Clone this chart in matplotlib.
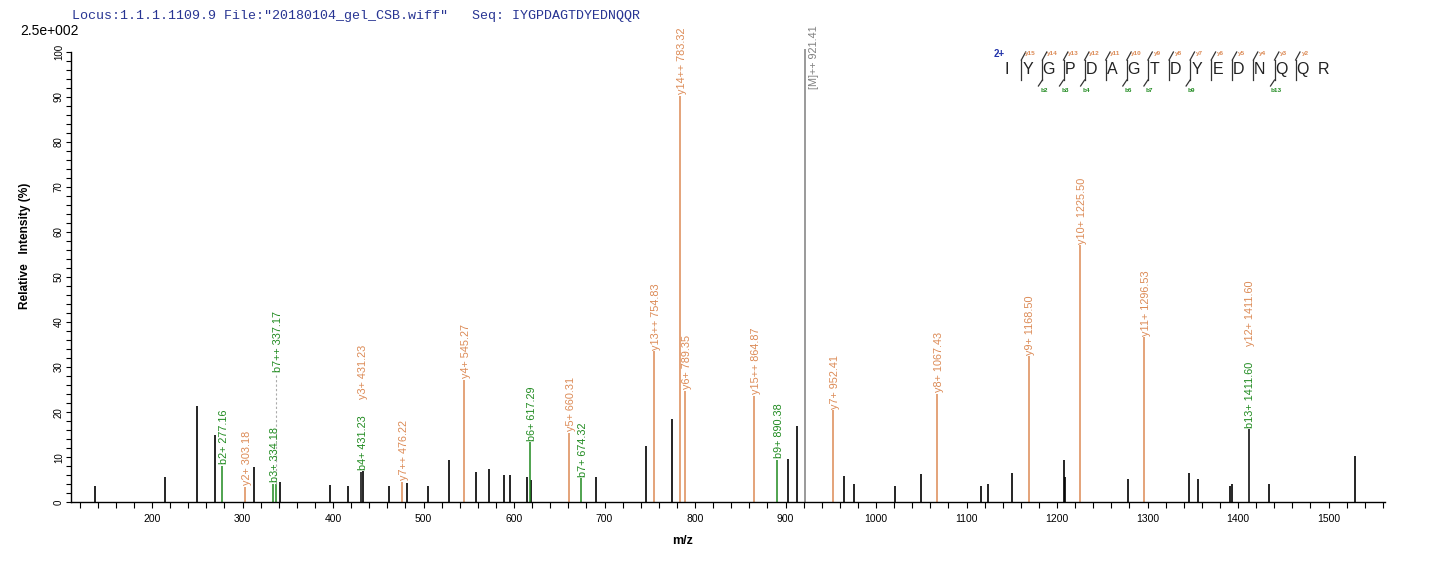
import matplotlib
matplotlib.use('Agg')
import matplotlib.pyplot as plt
import matplotlib.transforms as mtransforms
from matplotlib.lines import Line2D
from matplotlib.ticker import MultipleLocator

plt.rcParams['font.family'] = ['Liberation Sans', 'DejaVu Sans']

# unassigned peaks (m/z, relative intensity %)
other_mz = [136.9, 214.2, 249.5, 270.1, 313.1, 341.8, 397.0, 416.2, 433.5, 461.5,
            481.4, 504.6, 528.5, 557.6, 572.6, 589.2, 595.8, 614.6, 619.0, 690.8,
            746.0, 774.7, 902.9, 912.8, 964.7, 975.7, 1021.0, 1049.7, 1116.0, 1123.7,
            1150.6, 1207.7, 1208.8, 1278.3, 1345.6, 1355.6, 1390.9, 1393.6, 1434.1, 1529.0]
other_int = [3.7, 5.7, 21.3, 15.0, 7.8, 4.4, 3.9, 3.7, 7.0, 3.7,
             4.3, 3.7, 9.3, 6.8, 7.5, 6.1, 6.1, 5.6, 5.0, 5.6,
             12.5, 18.4, 9.7, 17.0, 5.8, 4.0, 3.7, 6.2, 3.7, 4.1,
             6.4, 9.4, 5.6, 5.2, 6.4, 5.2, 3.6, 4.0, 4.0, 10.2]

# assigned peaks
ion_mz = [277.16, 303.18, 334.18, 337.17, 431.23, 476.22, 545.27, 617.29, 660.31,
          674.32, 754.83, 783.32, 789.35, 864.87, 890.38, 921.41, 952.41, 1067.43,
          1168.50, 1225.50, 1296.53, 1411.60]
ion_int = [8.1, 3.5, 4.1, 4.1, 6.7, 4.5, 27.2, 13.3, 15.4,
           5.3, 33.5, 90.2, 24.8, 23.7, 9.4, 100.7, 20.4, 24.1,
           32.4, 57.0, 36.6, 16.2]
ion_kind = ['b', 'y', 'b', 'b', 'by', 'y', 'y', 'b', 'y',
            'b', 'y', 'y', 'y', 'y', 'b', 'M', 'y', 'y',
            'y', 'y', 'y', 'by']
ion_names = [['b2+'], ['y2+'], ['b3+'], ['b7++'], ['b4+', 'y3+'], ['y7++'], ['y4+'],
             ['b6+'], ['y5+'], ['b7+'], ['y13++'], ['y14++'], ['y6+'], ['y15++'],
             ['b9+'], ['[M]++'], ['y7+'], ['y8+'], ['y9+'], ['y10+'], ['y11+'],
             ['b13+', 'y12+']]

sequence = "IYGPDAGTDYEDNQQR"
y_bonds = list(range(1, 15))
b_bonds = [2, 3, 4, 6, 7, 9, 13]

ORANGE = '#dc8a55'
GREEN = '#1f8a1f'
GREY = '#7f7f7f'
BLUE = '#283593'
line_col = {'b': GREEN, 'y': ORANGE, 'M': GREY, 'by': 'black'}
text_col = {'b': GREEN, 'y': ORANGE, '[': GREY}

W, H = 1436, 562
fig = plt.figure(figsize=(W / 100, H / 100), dpi=100)
pix = mtransforms.Affine2D().scale(1 / W, -1 / H).translate(0, 1) + fig.transFigure

ax = fig.add_axes([71 / W, 1 - 502.3 / H, (1385 - 71) / W, (502.3 - 51.7) / H])
ax.set_xlim(110.5, 1562.4)
ax.set_ylim(0, 100)

ax.vlines(other_mz, 0, other_int, colors='black', lw=1.2, clip_on=False)
for mz, h, kind in zip(ion_mz, ion_int, ion_kind):
    ax.vlines(mz, 0, h, colors=line_col[kind], lw=1.1, clip_on=False)

# peak labels, some lifted so they don't overlap
lifted = {'b7++': 28.7, 'y3+': 22.7, 'y12+': 34.3}
for mz, h, names in zip(ion_mz, ion_int, ion_names):
    for nm in names:
        txt = '%s %.2f' % (nm, mz)
        col = text_col[nm[0]]
        if nm == '[M]++':
            # precursor label sits beside the line, near its top
            ax.annotate(txt, xy=(mz, h), xytext=(2.7, 16.5), textcoords='offset points',
                        rotation=90, ha='left', va='top', fontsize=7.8,
                        color=col, annotation_clip=False)
        elif nm in lifted:
            base = lifted[nm]
            if nm == 'b7++':
                ax.plot([mz, mz], [h, base], ls=(0, (2, 2)), color='#aaaaaa', lw=0.8)
            ax.annotate(txt, xy=(mz, base), xytext=(1.4, 1), textcoords='offset points',
                        rotation=90, ha='center', va='bottom', fontsize=7.8, color=col)
        else:
            ax.annotate(txt, xy=(mz, h), xytext=(1.4, 1.2), textcoords='offset points',
                        rotation=90, ha='center', va='bottom', fontsize=7.8,
                        color=col, annotation_clip=False)

for s in ['top', 'right']:
    ax.spines[s].set_visible(False)
ax.spines['left'].set_bounds(0, 100)
ax.spines['left'].set_linewidth(1.0)
ax.spines['bottom'].set_linewidth(1.0)

ax.xaxis.set_major_locator(MultipleLocator(100))
ax.xaxis.set_minor_locator(MultipleLocator(20))
ax.yaxis.set_major_locator(MultipleLocator(10))
ax.yaxis.set_minor_locator(MultipleLocator(2))
ax.tick_params(axis='x', which='both', direction='out', length=4.3, width=0.8,
               labelsize=7.5, pad=4)
ax.tick_params(axis='y', which='both', direction='out', length=3.6, width=0.8,
               labelsize=7, pad=1.5)
ax.set_xticks([t for t in range(200, 1600, 100)])
for lab in ax.get_yticklabels():
    lab.set_rotation(90)
    lab.set_va('center')

fig.text(683, 541, 'm/z', transform=pix, ha='center', va='center',
         fontsize=9, fontweight='bold')
fig.text(25, 245.5, 'Relative   Intensity (%)', transform=pix, rotation=90,
         ha='center', va='center', fontsize=8.6, fontweight='bold')
fig.text(20.5, 31, '2.5e+002', transform=pix, ha='left', va='center', fontsize=10)
fig.text(72, 16, 'Locus:1.1.1.1109.9 File:"20180104_gel_CSB.wiff"   Seq: IYGPDAGTDYEDNQQR',
         transform=pix, ha='left', va='center', fontsize=9.6, color=BLUE,
         family=['Liberation Mono', 'DejaVu Sans Mono'])

# sequence coverage map
x0, step, ly = 1006.7, 21.1, 69.3
n = len(sequence)
for i, aa in enumerate(sequence):
    fig.text(x0 + i * step, ly, aa, transform=pix, ha='center', va='center',
             fontsize=11.5, color='#222222')
fig.text(999, 54.3, '2+', transform=pix, ha='center', va='center',
         fontsize=7, fontweight='bold', color='#2233aa')
for k in y_bonds:
    bx = x0 + k * step - 6.5
    fig.add_artist(Line2D([bx, bx], [60, 80], transform=pix, color='#333333', lw=0.9))
    fig.add_artist(Line2D([bx, bx + 4.4], [60, 52], transform=pix, color='#333333', lw=0.9))
    fig.text(bx + 9.5, 53.3, 'y%d' % (n - k), transform=pix, ha='center', va='center',
             fontsize=4.6, fontweight='bold', color=ORANGE)
for k in b_bonds:
    bx = x0 + k * step - 6.5
    fig.add_artist(Line2D([bx, bx - 4], [80, 86], transform=pix, color='#333333', lw=0.9))
    fig.text(bx + 1.4, 90.7, 'b%d' % k, transform=pix, ha='center', va='center',
             fontsize=4.6, fontweight='bold', color=GREEN)

fig.savefig('out.png', dpi=100)
